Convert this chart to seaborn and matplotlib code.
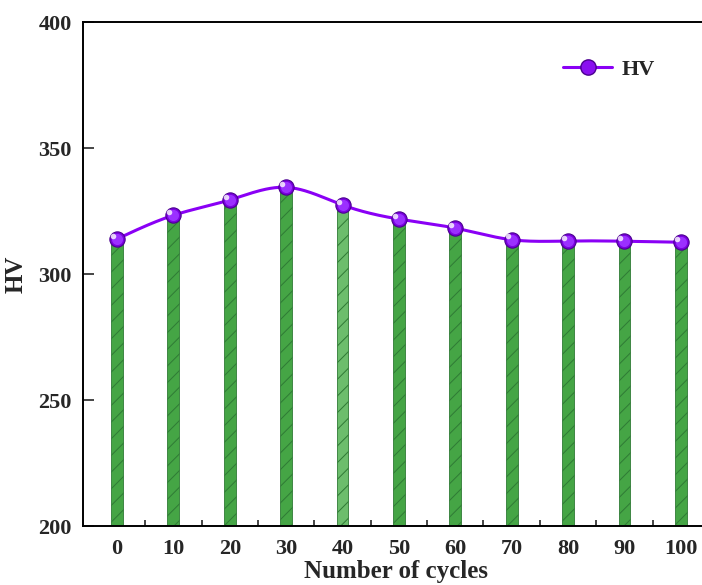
import numpy as np
import pandas as pd
import matplotlib
matplotlib.use("Agg")
import matplotlib.pyplot as plt
import seaborn as sns
from matplotlib.lines import Line2D
from matplotlib.ticker import FixedLocator

cycles = [0, 10, 20, 30, 40, 50, 60, 70, 80, 90, 100]
hv = [313.9, 323.3, 329.4, 334.4, 327.4, 321.8, 318.2, 313.6, 313.1, 313.0, 312.6]
bar_colors = ['#45a545', '#45a545', '#45a545', '#45a545', '#6cbd6c', '#45a545',
              '#45a545', '#45a545', '#45a545', '#45a545', '#45a545']
yticks = [200, 250, 300, 350, 400]
xticks = cycles
minor_xticks = [5, 15, 25, 35, 45, 55, 65, 75, 85, 95]

sns.set_style("white")
plt.rcParams['font.family'] = ['Liberation Serif', 'DejaVu Serif']
plt.rcParams['font.weight'] = 'bold'
plt.rcParams['hatch.color'] = '#2a6a2f'
plt.rcParams['hatch.linewidth'] = 0.7

fig = plt.figure(figsize=(7.02, 5.85), dpi=100)
ax = fig.add_axes([83/702, 59/585, 626/702, 504/585])

df = pd.DataFrame({'cycles': cycles, 'hv': hv, 'grp': [str(c) for c in cycles]})
sns.barplot(data=df, x='cycles', y='hv', hue='grp', palette=bar_colors,
            native_scale=True, width=0.21, legend=False, ax=ax, saturation=1,
            edgecolor='#2f7a35', linewidth=0.6, dodge=False)
for p in ax.patches:
    p.set_hatch('//')

# natural cubic spline for smooth curve
x = np.array(cycles, float)
y = np.array(hv, float)
n = len(x)
h = np.diff(x)
A = np.zeros((n, n))
b = np.zeros(n)
A[0, 0] = 1
A[-1, -1] = 1
for i in range(1, n - 1):
    A[i, i - 1] = h[i - 1]
    A[i, i] = 2 * (h[i - 1] + h[i])
    A[i, i + 1] = h[i]
    b[i] = 3 * ((y[i + 1] - y[i]) / h[i] - (y[i] - y[i - 1]) / h[i - 1])
c = np.linalg.solve(A, b)
xs, ys = [], []
for i in range(n - 1):
    t = np.linspace(0, h[i], 40)
    bi = (y[i + 1] - y[i]) / h[i] - h[i] * (2 * c[i] + c[i + 1]) / 3
    di = (c[i + 1] - c[i]) / (3 * h[i])
    xs.extend(x[i] + t)
    ys.extend(y[i] + bi * t + c[i] * t ** 2 + di * t ** 3)
sns.lineplot(x=xs, y=ys, color='#8a00f5', linewidth=2.2, ax=ax, sort=False, zorder=4)

ax.plot(cycles, hv, 'o', ms=11, color='#7a00e0', mec='#4b0090', mew=0.8, zorder=5)
ax.plot(cycles, hv, 'o', ms=8, color='#9b30ff', mec='none', zorder=5)
ax.plot(np.array(cycles) - 0.7, np.array(hv) + 1.3, 'o', ms=4, color='white',
        alpha=0.8, mec='none', zorder=6)

ax.set_xlim(-6.03, 105)
ax.set_ylim(200, 400)
ax.set_xticks(xticks)
ax.xaxis.set_minor_locator(FixedLocator(minor_xticks))
ax.set_yticks(yticks)
ax.tick_params(axis='both', which='major', direction='in', length=8, width=1.2,
               labelsize=16, pad=8)
ax.tick_params(axis='x', which='minor', direction='in', length=4, width=1.2, bottom=True)
ax.tick_params(axis='x', which='major', pad=9)
ax.tick_params(left=True, bottom=True)
for lab in ax.get_xticklabels() + ax.get_yticklabels():
    lab.set_fontweight('bold')
for s in ax.spines.values():
    s.set_color('black')
    s.set_linewidth(1.4)

ax.set_xlabel('Number of cycles', fontsize=18, fontweight='bold', labelpad=1)
ax.set_ylabel('HV', fontsize=18, fontweight='bold', labelpad=8)

handle = Line2D([], [], color='#8a00f5', linewidth=2.2, marker='o', ms=11,
                markerfacecolor='#8a10f0', markeredgecolor='#4b0090')
ax.legend([handle], ['HV'], loc='upper right', bbox_to_anchor=(0.945, 0.965),
          frameon=False, prop={'family': 'Liberation Serif', 'weight': 'bold', 'size': 16},
          handlelength=2.2, handletextpad=0.4)

fig.savefig('out.png', dpi=100)
